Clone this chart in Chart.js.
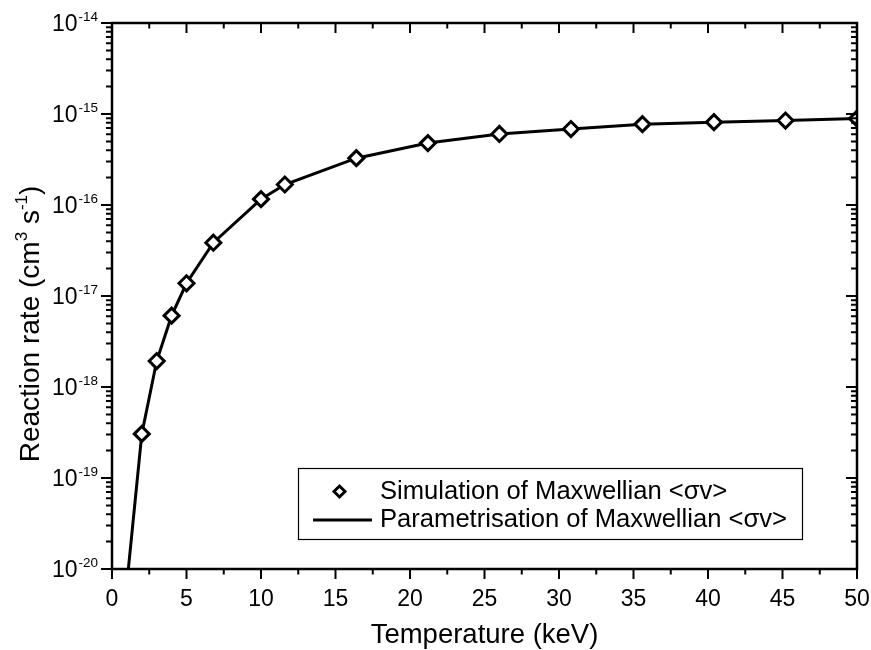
<!DOCTYPE html>
<html>
<head>
<meta charset="utf-8">
<script src="https://cdn.jsdelivr.net/npm/chart.js@4.4.1/dist/chart.umd.min.js"></script>
<style>
  html, body { margin: 0; padding: 0; background: #ffffff; }
  #wrap { width: 871px; height: 650px; position: relative; }
</style>
</head>
<body>
<div id="wrap"><canvas id="c" width="871" height="650"></canvas></div>
<script>
// ---- data ----
const simTemps = [2, 3, 4, 5, 6.8, 10, 11.6, 16.4, 21.2, 26, 30.8, 35.6, 40.4, 45.2, 50];
const simRates = [3.05e-19, 1.93e-18, 6.08e-18, 1.38e-17, 3.85e-17, 1.16e-16, 1.68e-16,
                  3.27e-16, 4.79e-16, 6.03e-16, 6.84e-16, 7.73e-16, 8.13e-16, 8.47e-16, 8.91e-16];
const fitTemps = [1.0, 2, 3, 4, 5, 6.8, 10, 11.6, 16.4, 21.2, 26, 30.8, 35.6, 40.4, 45.2, 50];
const fitRates = [6.9e-21, 3.05e-19, 1.93e-18, 6.08e-18, 1.38e-17, 3.85e-17, 1.16e-16, 1.68e-16,
                  3.27e-16, 4.79e-16, 6.03e-16, 6.84e-16, 7.73e-16, 8.13e-16, 8.47e-16, 8.91e-16];
const xTicks = [0, 5, 10, 15, 20, 25, 30, 35, 40, 45, 50];
const xTickLabels = ['0', '5', '10', '15', '20', '25', '30', '35', '40', '45', '50'];
const yTickExps = [-20, -19, -18, -17, -16, -15, -14];
const yTickLabels = ['-20', '-19', '-18', '-17', '-16', '-15', '-14'];
const seriesNames = ['Simulation of Maxwellian <\u03C3v>', 'Parametrisation of Maxwellian <\u03C3v>'];
const xTitle = 'Temperature (keV)';

const FONT = '"Liberation Sans", Arial, Helvetica, sans-serif';

const framePlugin = {
  id: 'frame',
  beforeDraw(chart) {
    const ctx = chart.ctx;
    ctx.save();
    ctx.fillStyle = '#ffffff';
    ctx.fillRect(0, 0, chart.width, chart.height);
    ctx.restore();
  },
  afterDraw(chart) {
    const ctx = chart.ctx;
    const a = chart.chartArea;
    const xs = chart.scales.x, ys = chart.scales.y;
    ctx.save();
    ctx.strokeStyle = '#000';
    ctx.fillStyle = '#000';
    // frame
    ctx.lineWidth = 2.5;
    ctx.strokeRect(a.left, a.top, a.right - a.left, a.bottom - a.top);
    ctx.lineWidth = 2;
    const MAJ = 10, MIN = 5.5;
    ctx.beginPath();
    // x ticks
    xTicks.forEach((v, i) => {
      const px = xs.getPixelForValue(v);
      ctx.moveTo(px, a.bottom); ctx.lineTo(px, a.bottom + MAJ);
      ctx.moveTo(px, a.top); ctx.lineTo(px, a.top + MAJ);
      if (i < xTicks.length - 1) {
        const m = xs.getPixelForValue((v + xTicks[i + 1]) / 2);
        ctx.moveTo(m, a.bottom); ctx.lineTo(m, a.bottom + MIN);
        ctx.moveTo(m, a.top); ctx.lineTo(m, a.top + MIN);
      }
    });
    // y ticks
    yTickExps.forEach((e, i) => {
      const py = ys.getPixelForValue(Math.pow(10, e));
      ctx.moveTo(a.left, py); ctx.lineTo(a.left - MAJ - 1, py);
      ctx.moveTo(a.right, py); ctx.lineTo(a.right - MAJ - 1, py);
      if (i < yTickExps.length - 1) {
        for (let k = 2; k <= 9; k++) {
          const pm = ys.getPixelForValue(k * Math.pow(10, e));
          ctx.moveTo(a.left, pm); ctx.lineTo(a.left - MIN - 0.5, pm);
          ctx.moveTo(a.right, pm); ctx.lineTo(a.right - MIN - 0.5, pm);
        }
      }
    });
    ctx.stroke();

    // x tick labels
    ctx.font = '23px ' + FONT;
    ctx.textAlign = 'center';
    ctx.textBaseline = 'alphabetic';
    xTicks.forEach((v, i) => {
      ctx.fillText(xTickLabels[i], xs.getPixelForValue(v), a.bottom + 37);
    });

    // y tick labels: 10 with superscript exponent
    yTickExps.forEach((e, i) => {
      const py = ys.getPixelForValue(Math.pow(10, e));
      const rightEdge = a.left - 14;
      ctx.font = '13.5px ' + FONT;
      const supW = ctx.measureText(yTickLabels[i]).width;
      ctx.textAlign = 'right';
      ctx.fillText(yTickLabels[i], rightEdge, py - 2);
      ctx.font = '23px ' + FONT;
      ctx.fillText('10', rightEdge - supW - 1, py + 8);
    });

    // x title
    ctx.font = '27.5px ' + FONT;
    ctx.textAlign = 'center';
    ctx.fillText(xTitle, (a.left + a.right) / 2, 643);

    // y title (rotated with superscripts)
    const parts = [
      ['Reaction rate (cm', 28, 0],
      ['3', 17, -12],
      [' s', 28, 0],
      ['-1', 17, -12],
      [')', 28, 0]
    ];
    let total = 0;
    parts.forEach(p => { ctx.font = p[1] + 'px ' + FONT; p.push(ctx.measureText(p[0]).width); total += p[3]; });
    ctx.translate(39, 324);
    ctx.rotate(-Math.PI / 2);
    ctx.textAlign = 'left';
    let cx = -total / 2;
    parts.forEach(p => {
      ctx.font = p[1] + 'px ' + FONT;
      ctx.fillText(p[0], cx, p[2]);
      cx += p[3];
    });
    ctx.restore();

    // legend
    ctx.save();
    ctx.strokeStyle = '#000';
    ctx.fillStyle = '#000';
    ctx.lineWidth = 1.2;
    ctx.strokeRect(298.5, 468.5, 504, 71);
    // diamond sample
    ctx.lineWidth = 3;
    ctx.beginPath();
    const dx = 339.5, dy = 491.5, r = 5.5;
    ctx.moveTo(dx, dy - r); ctx.lineTo(dx + r, dy); ctx.lineTo(dx, dy + r); ctx.lineTo(dx - r, dy); ctx.closePath();
    ctx.fillStyle = '#fff'; ctx.fill(); ctx.stroke();
    // line sample
    ctx.lineWidth = 3;
    ctx.beginPath(); ctx.moveTo(313, 520); ctx.lineTo(372, 520); ctx.stroke();
    ctx.fillStyle = '#000';
    ctx.font = '25.6px ' + FONT;
    ctx.textAlign = 'left';
    ctx.fillText(seriesNames[0], 380, 499);
    ctx.fillText(seriesNames[1], 380, 527);
    ctx.restore();
  }
};

new Chart(document.getElementById('c'), {
  type: 'scatter',
  data: {
    datasets: [
      {
        label: seriesNames[0],
        data: simTemps.map((t, i) => ({ x: t, y: simRates[i] })),
        pointStyle: 'rectRot',
        pointRadius: 7.5,
        pointBorderWidth: 3,
        pointBackgroundColor: '#ffffff',
        pointBorderColor: '#000000',
        showLine: false,
        clip: 0
      },
      {
        label: seriesNames[1],
        data: fitTemps.map((t, i) => ({ x: t, y: fitRates[i] })),
        showLine: true,
        pointRadius: 0,
        borderColor: '#000000',
        borderWidth: 3,
        tension: 0,
        clip: 0
      }
    ]
  },
  options: {
    responsive: false,
    animation: false,
    events: [],
    layout: { padding: { left: 112, top: 23, right: 14, bottom: 81 } },
    plugins: { legend: { display: false }, tooltip: { enabled: false } },
    scales: {
      x: { type: 'linear', min: 0, max: 50, display: false },
      y: { type: 'logarithmic', min: 1e-20, max: 1e-14, display: false }
    }
  },
  plugins: [framePlugin]
});
</script>
</body>
</html>
